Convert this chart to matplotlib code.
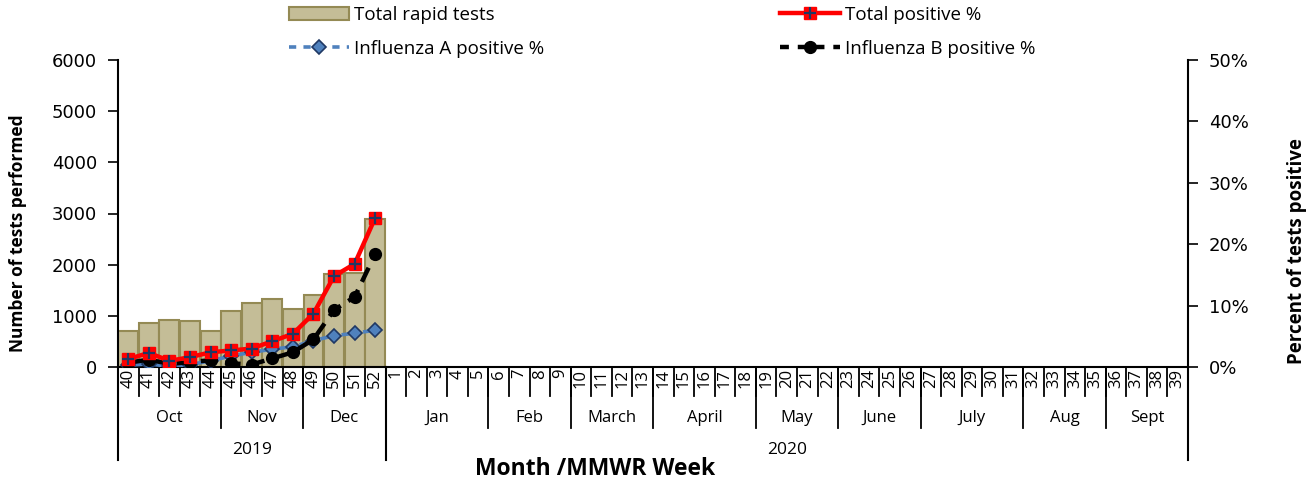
import matplotlib
matplotlib.use("Agg")
import matplotlib.pyplot as plt
import numpy as np
from matplotlib.lines import Line2D
from matplotlib.patches import Patch
import matplotlib.transforms as mtransforms

# ---------------- data ----------------
weeks = [str(w) for w in list(range(40, 53)) + list(range(1, 40))]
months = ["Oct", "Nov", "Dec", "Jan", "Feb", "March", "April", "May", "June", "July", "Aug", "Sept"]
month_weeks = [5, 4, 4, 5, 4, 4, 5, 4, 4, 5, 4, 4]
years = ["2019", "2020"]
year_weeks = [13, 39]

total_tests = [710, 865, 915, 895, 710, 1085, 1260, 1320, 1140, 1400, 1815, 1840, 2890]
total_pos = [1.3, 2.3, 1.0, 1.6, 2.4, 2.7, 3.0, 4.2, 5.4, 8.7, 14.8, 16.8, 24.3]
flu_a_pos = [0.3, 0.5, 0.1, 0.4, 1.0, 1.8, 2.4, 2.9, 3.3, 4.3, 5.1, 5.5, 6.0]
flu_b_pos = [0.7, 1.2, 0.5, 0.8, 1.1, 0.6, 0.4, 1.4, 2.4, 4.5, 9.3, 11.4, 18.4]

left_ticks = [0, 1000, 2000, 3000, 4000, 5000, 6000]
right_ticks = [0, 10, 20, 30, 40, 50]

# ---------------- styling ----------------
BAR_FACE = "#C4BD97"
BAR_EDGE = "#948A54"
RED = "#FF0000"
NAVY = "#1F3864"
BLUE = "#4F81BD"
TXT = "Open Sans"

fig = plt.figure(figsize=(13.13, 4.80), dpi=100)
L, R, B, T = 118 / 1313, 1188 / 1313, 1 - 367 / 480, 1 - 60 / 480
ax = fig.add_axes([L, B, R - L, T - B])
ax2 = ax.twinx()

n = len(weeks)
xd = np.arange(len(total_tests))

ax.bar(xd, total_tests, width=0.97, color=BAR_FACE, edgecolor=BAR_EDGE, linewidth=1.5, zorder=2)
ax.set_xlim(-0.5, n - 0.5)
ax.set_ylim(0, 6000)
ax.set_yticks(left_ticks)
ax.set_xticks([])
ax.tick_params(axis="y", direction="out", length=7, width=1.2, labelsize=13, pad=8)
for s in ["top", "right"]:
    ax.spines[s].set_visible(False)
ax.spines["left"].set_linewidth(1.5)
ax.spines["bottom"].set_linewidth(1.5)

ax2.set_ylim(0, 50)
ax2.set_yticks(right_ticks)
ax2.set_yticklabels([f"{t}%" for t in right_ticks])
ax2.tick_params(axis="y", direction="out", length=7, width=1.2, labelsize=13, pad=8)
for s in ["top", "left", "bottom"]:
    ax2.spines[s].set_visible(False)
ax2.spines["right"].set_linewidth(1.5)

# lines
ax2.plot(xd, total_pos, color=RED, lw=3.2, marker="s", ms=9, mfc=RED, mec=RED, zorder=5)
ax2.plot(xd, total_pos, ls="none", marker="+", ms=8.5, mew=1.6, color=NAVY, zorder=6)
ax2.plot(xd, flu_a_pos, color=BLUE, lw=2.6, ls=(0, (4, 2)), marker="D", ms=7.5, mfc=BLUE,
         mec=NAVY, mew=1.2, zorder=4)
ax2.plot(xd, flu_b_pos, color="black", lw=3.2, ls=(0, (3.5, 2)), marker="o", ms=8.5,
         mfc="black", mec="black", zorder=4)

fig.text(18 / 1313, 1 - 233 / 480, "Number of tests performed", rotation=90, ha="center",
         va="center", fontfamily=TXT, fontweight="bold", fontsize=12.5)
fig.text(1297 / 1313, 1 - 251 / 480, "Percent of tests positive", rotation=90, ha="center",
         va="center", fontfamily=TXT, fontweight="bold", fontsize=13.5)

# ---------------- multi-level x axis ----------------
trans = mtransforms.blended_transform_factory(ax.transData, ax.transAxes)
H = 307.0
def ay(py):
    return (367 - py) / H

lk = dict(transform=trans, clip_on=False, color="black")
for i, w in enumerate(weeks):
    ax.text(i, ay(369), w, rotation=90, ha="center", va="top", fontsize=12,
            fontfamily=TXT, transform=trans)
for i in range(n + 1):
    ax.add_line(Line2D([i - 0.5, i - 0.5], [0, ay(396)], lw=1.3, **lk))
pos = 0
for m, c in zip(months, month_weeks):
    ax.text(pos + c / 2 - 0.5, ay(418), m, ha="center", va="center", fontsize=12,
            fontfamily=TXT, transform=trans)
    ax.add_line(Line2D([pos + c - 0.5] * 2, [0, ay(428)], lw=1.3, **lk))
    pos += c
ax.add_line(Line2D([-0.5] * 2, [0, ay(428)], lw=1.3, **lk))
pos = 0
for yname, c in zip(years, year_weeks):
    ax.text(pos + c / 2 - 0.5, ay(450), yname, ha="center", va="center", fontsize=12.5,
            fontfamily=TXT, transform=trans)
    ax.add_line(Line2D([pos + c - 0.5] * 2, [0, ay(460)], lw=1.5, **lk))
    pos += c
ax.add_line(Line2D([-0.5] * 2, [0, ay(460)], lw=1.5, **lk))

fig.text(595 / 1313, 1 - 469 / 480, "Month /MMWR Week", ha="center", va="center",
         fontsize=16.5, fontweight="bold", fontfamily=TXT)

# ---------------- legend ----------------
h_bar = Patch(facecolor=BAR_FACE, edgecolor=BAR_EDGE, linewidth=1.5)
h_tot = (Line2D([], [], color=RED, lw=3.2, marker="s", ms=9, mfc=RED, mec=RED),
         Line2D([], [], ls="none", marker="+", ms=8.5, mew=1.6, color=NAVY))
h_a = Line2D([], [], color=BLUE, lw=2.6, ls=(0, (2, 2)), marker="D", ms=7.5, mfc=BLUE, mec=NAVY, mew=1.2)
h_b = Line2D([], [], color="black", lw=3.2, ls=(0, (2, 2)), marker="o", ms=8.5, mfc="black")

lp = dict(frameon=False, prop={"family": TXT, "size": 13.5}, handlelength=3.2,
          handletextpad=0.25, labelspacing=0.85, borderaxespad=0, borderpad=0)
fig.legend([h_bar, h_a], ["Total rapid tests", "Influenza A positive %"],
           loc="upper left", bbox_to_anchor=(289 / 1313, 1 - 6 / 480), **lp)
fig.legend([h_tot, h_b], ["Total positive %", "Influenza B positive %"],
           loc="upper left", bbox_to_anchor=(780 / 1313, 1 - 6 / 480), **lp)

fig.savefig("out.png", dpi=100)
